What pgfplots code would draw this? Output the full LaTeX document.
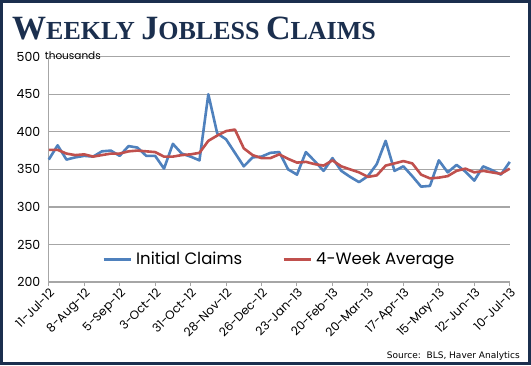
\documentclass[border=0pt]{standalone}
\usepackage{fontspec}
\setmainfont{Poppins}
\newfontfamily\titlefont{Liberation Serif}
\newfontfamily\srcfont{DejaVu Sans}
\usepackage{pgfplots}
\pgfplotsset{compat=1.18}
\usepackage{pgfplotstable}
\definecolor{navy}{HTML}{1B2F4E}
\definecolor{cblue}{HTML}{4F81BD}
\definecolor{cred}{HTML}{C0504D}
\definecolor{gridc}{HTML}{A6A6A6}
\pgfplotstableread{
i ic avg
0 363 376
1 382 376
2 363 371
3 366 369
4 368 370
5 367 367
6 374 369
7 375 371
8 368 371
9 381 374
10 379 375
11 368 374
12 368 373
13 351 367
14 384 367
15 371 369
16 367 370
17 362 372
18 450 388
19 398 395
20 390 401
21 372 403
22 354 378
23 366 369
24 367 365
25 372 365
26 373 370
27 350 364
28 343 359
29 373 360
30 361 357
31 348 355
32 365 362
33 348 354
34 340 350
35 333 346
36 341 340
37 357 342
38 388 355
39 348 358
40 354 361
41 341 358
42 327 343
43 328 338
44 362 339
45 346 341
46 356 348
47 347 351
48 335 346
49 354 348
50 349 346
51 343 344
52 360 351
}\data
\newcommand{\bigc}[1]{{\fontsize{34}{34}\selectfont #1}}
\newcommand{\smc}[1]{{\fontsize{26}{26}\selectfont #1}}
\begin{document}
\begin{tikzpicture}[x=1pt,y=1pt]
\path[use as bounding box] (0,0) rectangle (531,365);
\fill[white] (0,0) rectangle (531,365);
\draw[navy, line width=3pt] (1.5,1.5) rectangle (529.5,363.5);
\node[anchor=base west, text=navy, inner sep=0pt] at (12,325)
  {\titlefont\bfseries\bigc{W}\smc{EEKLY}\hspace{6.5pt}\bigc{J}\smc{OBLESS}\hspace{6.5pt}\bigc{C}\smc{LAIMS}};
\begin{axis}[
  at={(55,110.5)}, anchor=south west,
  scale only axis, width=461pt, height=225.3pt,
  xmin=0, xmax=52, ymin=200, ymax=500,
  clip=false,
  ytick={200,250,...,500},
  ymajorgrids, major grid style={gridc, line width=1.2pt},
  xtick={0,4,...,52},
  xticklabels={11-Jul-12,8-Aug-12,5-Sep-12,3-Oct-12,31-Oct-12,28-Nov-12,26-Dec-12,23-Jan-13,20-Feb-13,20-Mar-13,17-Apr-13,15-May-13,12-Jun-13,10-Jul-13},
  x tick label style={rotate=45, anchor=north east, font=\fontsize{12}{12}\selectfont, inner sep=1pt},
  y tick label style={font=\fontsize{12.5}{13}\selectfont, xshift=-5pt},
  axis x line*=bottom, axis y line*=left,
  axis line style={gridc, line width=1.2pt, -},
  xtick style={gridc, line width=1pt}, xtick align=outside, major tick length=4pt,
  ytick style={draw=none},
  /pgf/number format/assume math mode=true,
  legend style={at={(0.5,0.102)}, anchor=center, draw=none, fill=none, legend columns=2,
    font=\fontsize{16.5}{17}\selectfont,
    /tikz/every even column/.append style={column sep=38pt},
    /tikz/every odd column/.append style={column sep=2pt}},
  legend image code/.code={\draw[#1, line width=3pt] (0,0) -- (27pt,0);},
]
\addplot[cblue, line width=2.6pt, line join=round] table[x=i, y=ic] {\data};
\addlegendentry{Initial Claims}
\addplot[cred, line width=2.6pt, line join=round] table[x=i, y=avg] {\data};
\addlegendentry{4-Week Average}
\node[anchor=base west, inner sep=0pt, font=\fontsize{10.5}{10}\selectfont] at (rel axis cs:0,1) [xshift=-4pt, yshift=-2.5pt] {thousands};
\end{axis}
\node[anchor=base east, inner sep=0pt, font=\srcfont\fontsize{9}{9}\selectfont] at (520,7) {Source:\ \ BLS, Haver Analytics};
\end{tikzpicture}
\end{document}
